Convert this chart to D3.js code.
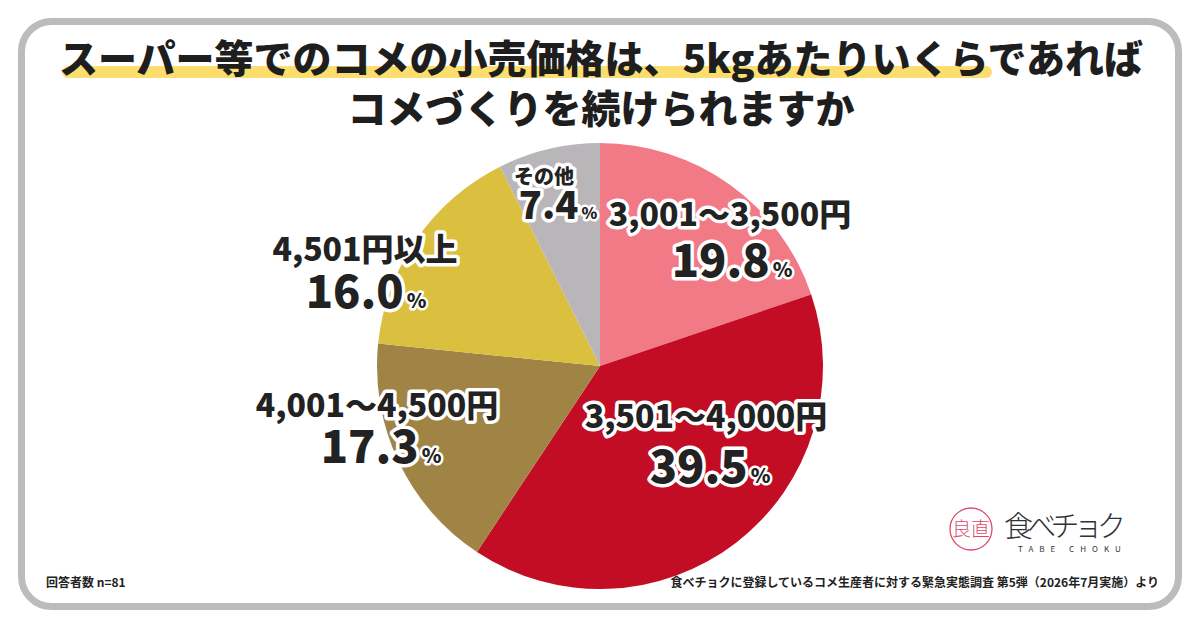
<!DOCTYPE html>
<meta charset="utf-8" />
<script src="https://d3js.org/d3.v7.min.js"></script>
<style>
  body { margin: 0; background: #fff; }
  svg text { font-family: "Noto Sans CJK JP", "Noto Sans", sans-serif; }
</style>
<div id="chart"></div>
<script>
  // data (clockwise from 12 o'clock)
  const categories = ["3,001～3,500円", "3,501～4,000円", "4,001～4,500円", "4,501円以上", "その他"];
  const shares = [19.8, 39.5, 17.3, 16.0, 7.4];
  const sliceColors = ["#f27a87", "#c30d25", "#a08445", "#dbbf3e", "#b9b6ba"];

  const titleLines = ["スーパー等でのコメの小売価格は、5kgあたりいくらであれば", "コメづくりを続けられますか"];
  const sampleNote = "回答者数 n=81";
  const sourceNote = "食べチョクに登録しているコメ生産者に対する緊急実態調査 第5弾（2026年7月実施）より";

  // label placement (x centres, baselines) per slice
  const labelLayout = [
    { x1: 730, x2: 732, y1: 226, y2: 277, cat: 32, num: 45, pct: 20 },
    { x1: 706, x2: 710, y1: 428, y2: 483, cat: 32, num: 45, pct: 20 },
    { x1: 377, x2: 381, y1: 417, y2: 463, cat: 32, num: 45, pct: 20 },
    { x1: 365, x2: 366, y1: 261, y2: 308, cat: 32, num: 45, pct: 20 },
    { x1: 544, x2: 558, y1: 184, y2: 219, cat: 20, num: 38, pct: 16 }
  ];

  const W = 1200, H = 630;
  const svg = d3.select("#chart").append("svg")
    .attr("width", W).attr("height", H);

  // card
  svg.append("rect")
    .attr("x", 21.5).attr("y", 21.5)
    .attr("width", 1157).attr("height", 585)
    .attr("rx", 30)
    .attr("fill", "#fff")
    .attr("stroke", "#bdbbbe")
    .attr("stroke-width", 7);

  // title highlight
  svg.append("rect")
    .attr("x", 62).attr("y", 66)
    .attr("width", 930).attr("height", 12)
    .attr("rx", 6)
    .attr("fill", "#fbde6e");

  svg.selectAll(".title")
    .data(titleLines)
    .join("text")
    .attr("class", "title")
    .attr("x", 601)
    .attr("y", (d, i) => 73 + i * 50)
    .attr("text-anchor", "middle")
    .style("font-size", "39px")
    .style("font-weight", 900)
    .style("fill", "#1e1e1e")
    .text(d => d);

  // pie
  const cx = 600, cy = 366, r = 223;
  const pie = d3.pie().sort(null).value(d => d);
  const arc = d3.arc().innerRadius(0).outerRadius(r);
  const g = svg.append("g").attr("transform", `translate(${cx},${cy})`);

  g.selectAll("path")
    .data(pie(shares))
    .join("path")
    .attr("d", arc)
    .attr("fill", (d, i) => sliceColors[i]);

  // labels
  const labels = svg.append("g")
    .style("fill", "#222")
    .style("stroke", "#fff")
    .style("stroke-width", 7)
    .style("stroke-linejoin", "round")
    .style("paint-order", "stroke")
    .style("font-weight", 900);

  categories.forEach((c, i) => {
    const L = labelLayout[i];
    labels.append("text")
      .attr("x", L.x1).attr("y", L.y1)
      .attr("text-anchor", "middle")
      .style("font-size", L.cat + "px")
      .text(c);
    const t = labels.append("text")
      .attr("x", L.x2).attr("y", L.y2)
      .attr("text-anchor", "middle")
      .style("font-size", L.num + "px");
    t.append("tspan").text(shares[i].toFixed(1));
    t.append("tspan").attr("dx", 3).style("font-size", L.pct + "px").style("stroke-width", 5).text("%");
  });

  // footer
  svg.append("text")
    .attr("x", 46).attr("y", 587)
    .style("font-size", "12px").style("font-weight", 700).style("fill", "#222")
    .text(sampleNote);
  svg.append("text")
    .attr("x", 1159).attr("y", 587)
    .attr("text-anchor", "end")
    .style("font-size", "12px").style("font-weight", 700).style("fill", "#222")
    .text(sourceNote);

  // logo
  const logo = svg.append("g");
  logo.append("circle")
    .attr("cx", 971).attr("cy", 529).attr("r", 21)
    .attr("fill", "none").attr("stroke", "#e0476a").attr("stroke-width", 1.3);
  logo.append("text")
    .attr("x", 971).attr("y", 536).attr("text-anchor", "middle")
    .style("font-size", "19px").style("font-weight", 300).style("fill", "#e0476a")
    .text("良直");
  logo.append("text")
    .attr("x", 1004).attr("y", 537)
    .style("font-size", "29px").style("font-weight", 300).style("fill", "#333")
    .attr("textLength", 122)
    .text("食べチョク");
  logo.append("text")
    .attr("x", 1018).attr("y", 552)
    .style("font-size", "8px").style("fill", "#333")
    .style("letter-spacing", "6px")
    .text("TABE CHOKU");
</script>
